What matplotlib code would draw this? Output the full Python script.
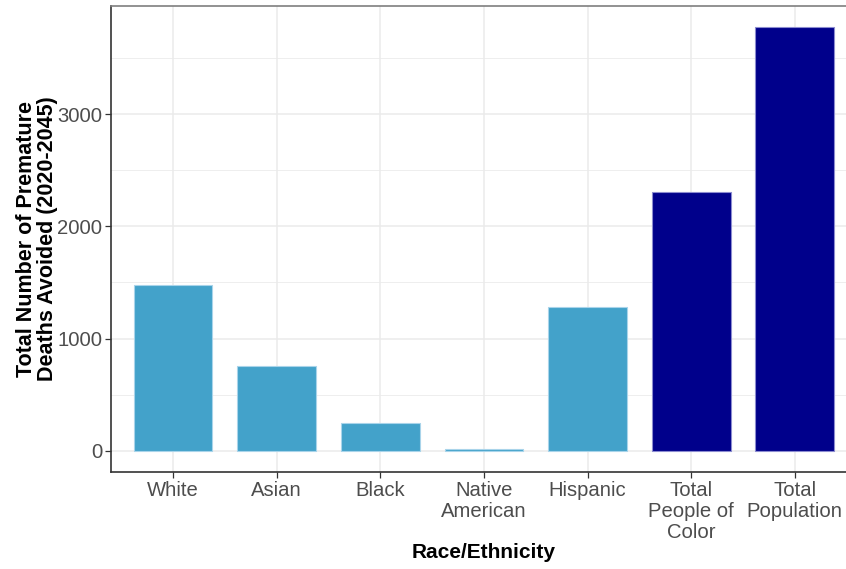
import matplotlib

matplotlib.use("Agg")
import matplotlib.pyplot as plt
import numpy as np
from matplotlib.ticker import MultipleLocator

plt.rcParams["font.family"] = ["Liberation Sans", "DejaVu Sans"]

categories = ["White", "Asian", "Black", "Native\nAmerican", "Hispanic",
              "Total\nPeople of\nColor", "Total\nPopulation"]
deaths_avoided = [1475, 756, 250, 14, 1283, 2304, 3775]
bar_colors = ["#43A2CA"] * 5 + ["#00008B"] * 2
edge_colors = ["#A9D4EA"] * 5 + ["#8C8CD0"] * 2

GRID = "#EBEBEB"
TICK_TEXT = "#4D4D4D"

fig = plt.figure(figsize=(8.46, 5.69), dpi=100)
ax = fig.add_axes([0.131, 0.1705, 0.882, 0.819])

x = np.arange(1, len(categories) + 1)
ax.bar(x, deaths_avoided, width=0.76, color=bar_colors, edgecolor=edge_colors,
       linewidth=0.8, zorder=3)

ax.set_xlim(0.4, len(categories) + 0.6)
top = max(deaths_avoided)
ax.set_ylim(-0.05 * top, top * 1.05)

ax.yaxis.set_major_locator(MultipleLocator(1000))
ax.yaxis.set_minor_locator(MultipleLocator(500))
ax.set_xticks(x, labels=categories)
ax.grid(which="major", color=GRID, linewidth=1.1, zorder=0)
ax.grid(which="minor", axis="y", color=GRID, linewidth=0.6, zorder=0)
ax.tick_params(which="minor", length=0)
ax.tick_params(which="major", length=4, width=0.9, color="#333333",
               labelsize=14.6, labelcolor=TICK_TEXT, pad=2)
ax.tick_params(axis="x", pad=2.5)
for lab in ax.get_xticklabels():
    lab.set_linespacing(1.12)

for side in ["top", "right"]:
    ax.spines[side].set_color("#7F7F7F")
    ax.spines[side].set_linewidth(1.2)
for side in ["left", "bottom"]:
    ax.spines[side].set_color("#333333")
    ax.spines[side].set_linewidth(1.2)

ax.set_xlabel("Race/Ethnicity", fontsize=15, fontweight="bold", labelpad=1)
ax.set_ylabel("Total Number of Premature\nDeaths Avoided (2020-2045)",
              fontsize=15.5, fontweight="bold", labelpad=-0.5, linespacing=1.0)

fig.savefig("out.png", dpi=100)
